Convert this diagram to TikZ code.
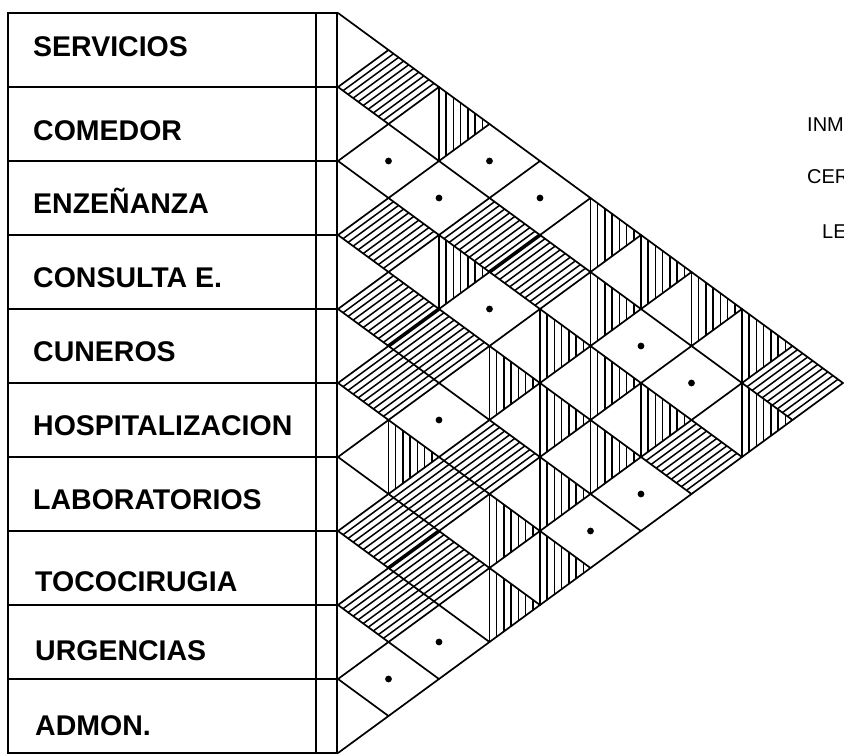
\documentclass[tikz,border=0pt]{standalone}
\usepackage{fontspec}
\setmainfont{Liberation Sans}
\newfontfamily\labfont{Liberation Sans}
\newcommand\HW{50.5}
\newcommand\HH{37}
\newcommand\dcell[2]{%
  \pgfmathsetmacro\hcx{338+\HW*(#2-#1)}%
  \pgfmathsetmacro\hcy{13+\HH*(#1+#2-1)}%
  \foreach \t in {1,...,9}{%
    \draw[hatchline] ({\hcx-\HW+\HW*\t/10},{\hcy+\HH*\t/10}) -- ({\hcx+\HW*\t/10},{\hcy-\HH+\HH*\t/10});
  }}
\newcommand\vcell[2]{%
  \pgfmathsetmacro\hcx{338+\HW*(#2-#1)}%
  \pgfmathsetmacro\hcy{13+\HH*(#1+#2-1)}%
  \draw[gridline] (\hcx,{\hcy-\HH}) -- (\hcx,{\hcy+\HH});
  \foreach \s in {1,...,6}{%
    \draw[hatchline] ({\hcx+\HW*\s/7},{\hcy-\HH*(1-\s/7)}) -- ({\hcx+\HW*\s/7},{\hcy+\HH*(1-\s/7)});
  }}
\newcommand\pcell[2]{%
  \pgfmathsetmacro\hcx{338+\HW*(#2-#1)}%
  \pgfmathsetmacro\hcy{13+\HH*(#1+#2-1)}%
  \fill (\hcx,\hcy) circle (3.4);}
\newcommand\boldedge[2]{%
  \pgfmathsetmacro\hcx{338+\HW*(#2-#1)}%
  \pgfmathsetmacro\hcy{13+\HH*(#1+#2-1)}%
  \draw[line width=3.6pt] (\hcx,{\hcy+\HH}) -- ({\hcx+\HW},\hcy);}
\begin{document}
\begin{tikzpicture}[x=1pt,y=-1pt,
  gridline/.style={line width=1.7pt,line cap=round},
  hatchline/.style={line width=1.5pt},
  lab/.style={anchor=base west,inner sep=0pt,font=\labfont\bfseries\fontsize{28.5}{30}\selectfont},
  leg/.style={anchor=base west,inner sep=0pt,font=\fontsize{20}{22}\selectfont}]
\useasboundingbox (0,0) rectangle (844,755);
% table
\draw[gridline] (8,13) rectangle (337,753);
\draw[gridline] (316,13) -- (316,753);
\foreach \i in {1,...,9}{\draw[gridline] (8,{13+74*\i}) -- (337,{13+74*\i});}
% labels
\node[lab] (l1) at (33,56) {SERVICIOS};
\node[lab] (l2) at (33,140) {COMEDOR};
\node[lab] (l3) at (33,213) {ENZEÑANZA};
\node[lab] (l4) at (33,287) {CONSULTA E.};
\node[lab] (l5) at (33,361) {CUNEROS};
\node[lab] (l6) at (33,435) {HOSPITALIZACION};
\node[lab] (l7) at (33,509) {LABORATORIOS};
\node[lab] (l8) at (35,591) {TOCOCIRUGIA};
\node[lab] (l9) at (35,660) {URGENCIAS};
\node[lab] (l10) at (35,735) {ADMON.};
% triangle grid
\foreach \i in {0,...,9}{\draw[gridline] (338,{13+74*\i}) -- ({338+\HW*(10-\i)},{13+74*\i+\HH*(10-\i)});}
\foreach \i in {1,...,10}{\draw[gridline] (338,{13+74*\i}) -- ({338+\HW*\i},{13+74*\i-\HH*\i});}
% diagonal hatched cells
\dcell{1}{2}\dcell{3}{4}\dcell{4}{5}\dcell{5}{6}\dcell{7}{8}\dcell{8}{9}
\dcell{4}{6}\dcell{6}{8}\dcell{7}{9}
\dcell{2}{5}\dcell{5}{8}
\dcell{2}{6}
\dcell{3}{10}
\dcell{1}{10}
% vertical hatched cells
\vcell{6}{7}
\vcell{1}{3}\vcell{3}{5}
\vcell{4}{7}\vcell{6}{9}\vcell{7}{10}
\vcell{3}{7}\vcell{4}{8}\vcell{5}{9}\vcell{6}{10}
\vcell{1}{6}\vcell{2}{7}\vcell{3}{8}\vcell{4}{9}
\vcell{1}{7}\vcell{3}{9}
\vcell{1}{8}
\vcell{1}{9}\vcell{2}{10}
% dot cells
\pcell{2}{3}\pcell{9}{10}
\pcell{2}{4}\pcell{5}{7}\pcell{8}{10}
\pcell{1}{4}\pcell{3}{6}
\pcell{1}{5}
\pcell{5}{10}
\pcell{2}{8}\pcell{4}{10}
\pcell{2}{9}
% heavy strokes
\boldedge{2}{5}\boldedge{4}{5}\boldedge{7}{8}
% legend (cut off at the right edge, as in the reference)
\node[leg] (g1) at (807,131) {INM};
\node[leg] (g2) at (807,183) {CER};
\node[leg] (g3) at (822,238) {LE};
\end{tikzpicture}
\end{document}
